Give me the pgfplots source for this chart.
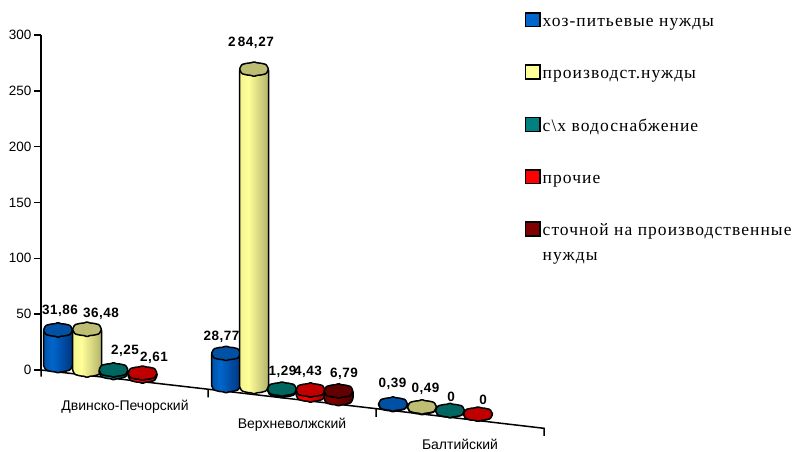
\documentclass[border=0pt]{standalone}
\usepackage{fontspec}
\setmainfont{Liberation Sans}
\newfontfamily\legfont[LetterSpace=6]{Liberation Serif}
\newfontfamily\valfont[LetterSpace=4]{Liberation Sans}
\usepackage{pgfplots}
\usepackage{pgfplotstable}
\pgfplotsset{compat=1.18}

\definecolor{cBlue}{HTML}{0066CC}
\definecolor{cYellow}{HTML}{FFFF99}
\definecolor{cTeal}{HTML}{008080}
\definecolor{cRed}{HTML}{FF0000}
\definecolor{cDark}{HTML}{800000}
\definecolor{tBlue}{HTML}{0050A3}
\definecolor{tYellow}{HTML}{BDBD73}
\definecolor{tTeal}{HTML}{006660}
\definecolor{tRed}{HTML}{C00000}
\definecolor{tDark}{HTML}{600000}
\definecolor{lBlue}{HTML}{0052A8}
\definecolor{rBlue}{HTML}{003580}
\definecolor{lYellow}{HTML}{F4F48E}
\definecolor{rYellow}{HTML}{B3B36B}
\definecolor{lTeal}{HTML}{006666}
\definecolor{rTeal}{HTML}{004040}
\definecolor{lRed}{HTML}{E00000}
\definecolor{rRed}{HTML}{A00000}
\definecolor{lDark}{HTML}{6E0000}
\definecolor{rDark}{HTML}{4D0000}

% Cylinder drawn downwards from the centre of its top face; \cylh is its height in pt.
\newcommand\declarecyl[4]{%
  \pgfdeclarehorizontalshading{shade#1}{100bp}{%
    color(0bp)=(#3); color(25bp)=(#3); color(40bp)=(#2); color(75bp)=(#4); color(100bp)=(#4)}%
  \pgfdeclareplotmark{cyl#1}{%
    \path[draw=black,line width=1.5pt,line join=round,rounded corners=1pt,shading=shade#1,shade]
      (-14.5pt,0pt) -- (-14.5pt,{-\cylh pt})
      -- (-12.3pt,{-\cylh pt-4.4pt}) -- (-6.5pt,{-\cylh pt-6pt}) -- (-2.9pt,{-\cylh pt-6.2pt})
      -- (0pt,{-\cylh pt-7.5pt})
      -- (2.9pt,{-\cylh pt-6.2pt}) -- (6.5pt,{-\cylh pt-6pt}) -- (12.3pt,{-\cylh pt-4.4pt})
      -- (14.5pt,{-\cylh pt}) -- (14.5pt,0pt) -- cycle;
    \path[draw=black,line width=1.5pt,line join=round,rounded corners=1pt,fill=t#1]
      (-14.5pt,0pt) -- (-12.3pt,4.6pt) -- (-6.5pt,6pt) -- (-2.9pt,6.2pt) -- (0pt,7.5pt)
      -- (2.9pt,6.2pt) -- (6.5pt,6pt) -- (12.3pt,4.6pt) -- (14.5pt,0pt)
      -- (12.3pt,-4.6pt) -- (6.5pt,-6pt) -- (2.9pt,-6.2pt) -- (0pt,-7.5pt)
      -- (-2.9pt,-6.2pt) -- (-6.5pt,-6pt) -- (-12.3pt,-4.6pt) -- cycle;
  }%
}
\declarecyl{Blue}{cBlue}{lBlue}{rBlue}
\declarecyl{Yellow}{cYellow}{lYellow}{rYellow}
\declarecyl{Teal}{cTeal}{lTeal}{rTeal}
\declarecyl{Red}{cRed}{lRed}{rRed}
\declarecyl{Dark}{cDark}{lDark}{rDark}

% x: position along the floor, b: floor level under the column, v: value,
% lx, ly: where the value is written
\pgfplotstableread{
x   b     v      lx     ly    lab
58  4.0   31.86  60     53.3  31,86
226 -13.9 28.77  221.5  29.8  28,77
393 -30.9 0.39   392.5  -12.5 0,39
}\tabBlue
\pgfplotstableread{
x   b     v      lx     ly    lab
87  0.0   36.48  101    50.1  36,48
254 -14.8 284.27 251    293.0 {2\,84,27}
422 -33.6 0.49   425.5  -17.0 0,49
}\tabYellow
\pgfplotstableread{
x     b     v     lx     ly    lab
113.5 -2.2  2.25  125    17.3  2,25
282   -18.4 1.29  282.5  -1.8  1,29
450   -36.3 0     451    -24.2 0
}\tabTeal
\pgfplotstableread{
x     b     v     lx     ly    lab
142.5 -5.4  2.61  154    10.7  2,61
310.5 -22.4 4.43  308    -1.8  4,43
478   -39.5 0     483    -26.9 0
}\tabRed
\pgfplotstableread{
x     b     v     lx     ly    lab
338.5 -25.6 6.79  344    -3.6  6,79
}\tabDark

\newcommand\cylseries[3]{%
  \addplot[only marks,scatter,mark=cyl#1,
    scatter/use mapped color={draw=black,fill=black},
    visualization depends on={1.1167*\thisrow{v}\as\cylh},
    legend image code/.code={%
      \draw[draw=black,line width=1.6pt,fill=c#1] (0pt,-0.3pt) rectangle (14.6pt,13.4pt);}]
    table[x=x,y expr=\thisrow{b}+\thisrow{v}]{#2};
  \addlegendentry{#3}
}
\newcommand\vallabels[1]{%
  \addplot[forget plot,only marks,mark=none,point meta=explicit symbolic,
    nodes near coords,
    every node near coord/.style={anchor=center,inner sep=0pt,
      font=\valfont\fontsize{13.5}{15}\selectfont\bfseries,text=black}]
    table[x=lx,y=ly,meta=lab]{#1};
}

\begin{document}
\begin{tikzpicture}
\path[use as bounding box] (0,0) rectangle (794pt,451pt);
\begin{axis}[
  at={(41pt,81pt)},anchor=south west,
  scale only axis,width=504pt,height=335pt,
  xmin=41,xmax=545,ymin=0,ymax=300,
  clip=false,
  axis y line=left,axis x line=none,
  axis line style={-,black,line width=1.5pt},
  ytick distance=50,xtick=\empty,
  tick align=outside,major tick length=7pt,
  ytick style={black,line width=1.5pt},
  yticklabel style={font=\fontsize{13.5}{15}\selectfont,text=black,
    /pgf/number format/assume math mode=true,xshift=1pt},
  legend style={
    at={(axis cs:524.5,320.5)},anchor=north west,draw=none,fill=none,
    inner sep=0pt,outer sep=0pt,
    row sep=34.5pt,
    font=\legfont\fontsize{17.5}{25}\selectfont,
    cells={anchor=base west},
  },
]
% Sloping floor with its category ticks
\addplot[forget plot,black,line width=1.5pt,line join=miter]
  coordinates {(41,-6)(41,0)(208,-17.2)(208,-24.4)(208,-17.2)(376,-34.6)(376,-42)(376,-34.6)(544,-52.2)(544,-59)};

\cylseries{Blue}{\tabBlue}{хоз-питьевые нужды}
\cylseries{Yellow}{\tabYellow}{производст.нужды}
\cylseries{Teal}{\tabTeal}{с\textbackslash х водоснабжение}
\cylseries{Red}{\tabRed}{прочие}
\cylseries{Dark}{\tabDark}{\parbox[t]{260pt}{сточной на производственные\\нужды}}

\vallabels{\tabBlue}
\vallabels{\tabYellow}
\vallabels{\tabTeal}
\vallabels{\tabRed}
\vallabels{\tabDark}

\node[inner sep=0pt,font=\fontsize{14}{16}\selectfont] at (axis cs:125,-33.1) {Двинско-Печорский};
\node[inner sep=0pt,font=\fontsize{14}{16}\selectfont] at (axis cs:292,-49.3) {Верхневолжский};
\node[inner sep=0pt,font=\fontsize{14}{16}\selectfont] at (axis cs:460,-66.5) {Балтийский};
\end{axis}
\end{tikzpicture}
\end{document}
